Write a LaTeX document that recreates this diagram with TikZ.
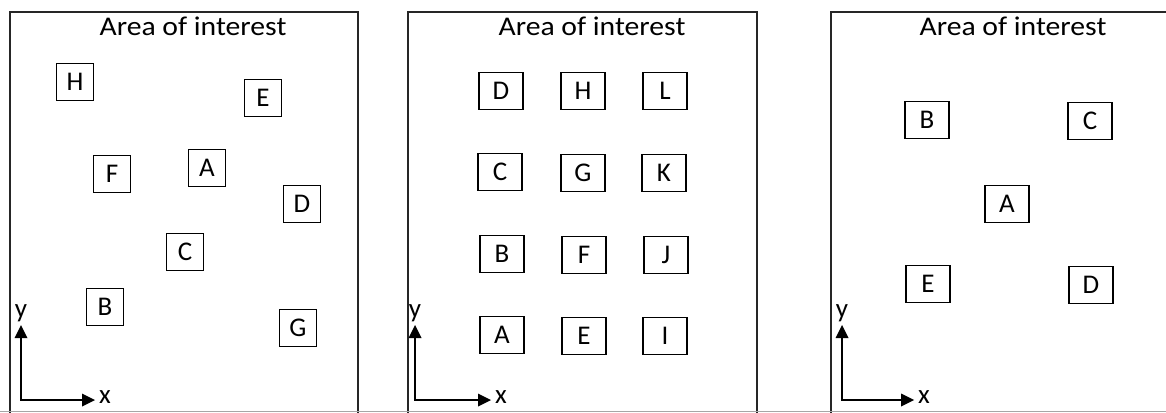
\documentclass[tikz,border=0pt]{standalone}
\usepackage{fontspec}
\setmainfont{Carlito}
\begin{document}
\begin{tikzpicture}[x=1pt,y=-1pt,
  panel/.style={line width=2.4pt, draw=black!85},
  sq/.style={draw, line width=1.8pt, minimum width=37, minimum height=37, inner sep=0, font=\fontsize{27}{28}\selectfont},
  wsq/.style={sq, minimum width=44},
  ttl/.style={font=\fontsize{27}{30}\selectfont, xscale=1.1, inner sep=0},
  axis/.style={line width=1.2pt},
  axlbl/.style={font=\fontsize{27}{28}\selectfont, inner sep=0}]
\useasboundingbox (0,0) rectangle (1166,412);
\begin{scope}
\clip (0,0) rectangle (1166,412);
% panel borders
\draw[panel] (10,420) -- (10,12) -- (358,12) -- (358,420);
\draw[panel] (408,420) -- (408,12) -- (757,12) -- (757,420);
\draw[panel] (831,420) -- (831,12) -- (1175,12);
\draw[black!35, line width=0.8pt] (0,411) -- (1166,411);
\end{scope}
% titles
\node[ttl] (t1) at (193,26) {Area of interest};
\node[ttl] (t2) at (592,26) {Area of interest};
\node[ttl] (t3) at (1013,26) {Area of interest};
% panel 1
\node[sq] (p1H) at (75,82) {H};
\node[sq] (p1E) at (263,98) {E};
\node[sq] (p1F) at (112,174) {F};
\node[sq] (p1A) at (207,168) {A};
\node[sq] (p1D) at (302,204) {D};
\node[sq] (p1C) at (185,252) {C};
\node[sq] (p1B) at (105,307) {B};
\node[sq] (p1G) at (298,328) {G};
% panel 2
\node[wsq] (p2D) at (501,91) {D};
\node[wsq] (p2H) at (583,91) {H};
\node[wsq] (p2L) at (665,91) {L};
\node[wsq] (p2C) at (500,172) {C};
\node[wsq] (p2G) at (583,173) {G};
\node[wsq] (p2K) at (664,173) {K};
\node[wsq] (p2B) at (502,254) {B};
\node[wsq] (p2F) at (584,255) {F};
\node[wsq] (p2J) at (666,255) {J};
\node[wsq] (p2A) at (502,335) {A};
\node[wsq] (p2E) at (584,336) {E};
\node[wsq] (p2I) at (665,336) {I};
% panel 3
\node[wsq] (p3B) at (927,120) {B};
\node[wsq] (p3C) at (1090,121) {C};
\node[wsq] (p3A) at (1007,204) {A};
\node[wsq] (p3E) at (928,284) {E};
\node[wsq] (p3D) at (1091,285) {D};
% axes
\foreach \n/\ox/\xt in {1/21/95, 2/415/491, 3/842/914}{
  \coordinate (o\n) at (\ox,400);
  \coordinate (ytip\n) at (\ox,325);
  \coordinate (xtip\n) at (\xt,400);
  \draw[axis] (ytip\n) ++(0,12) -- (o\n) -- ([xshift=-12]xtip\n);
  \fill (ytip\n) -- ++(-6.5,13) -- ++(13,0) -- cycle;
  \fill (xtip\n) -- ++(-13,-6.5) -- ++(0,13) -- cycle;
  \node[axlbl, anchor=south] (ylab\n) at ([yshift=3]ytip\n) {y};
  \node[axlbl, anchor=west] (xlab\n) at ([xshift=4,yshift=3]xtip\n) {x};
}
\end{tikzpicture}
\end{document}
